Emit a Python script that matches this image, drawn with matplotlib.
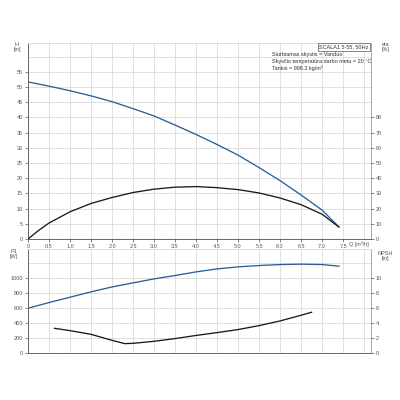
import matplotlib
matplotlib.use("Agg")
import matplotlib.pyplot as plt
import numpy as np

plt.rcParams['font.family'] = ['Liberation Sans', 'DejaVu Sans']

# pump curves
q_head = [0, 0.5, 1.0, 1.5, 2.0, 2.5, 3.0, 3.5, 4.0, 4.5, 5.0, 5.5, 6.0, 6.5, 7.0, 7.4]
head = [51.7, 50.3, 48.8, 47.1, 45.2, 42.9, 40.5, 37.5, 34.4, 31.1, 27.6, 23.5, 19.2, 14.5, 9.5, 4.0]

q_eta = [0, 0.25, 0.5, 1.0, 1.5, 2.0, 2.5, 3.0, 3.5, 4.0, 4.5, 5.0, 5.5, 6.0, 6.5, 7.0, 7.4]
eta = [0, 5.6, 10.5, 17.9, 23.4, 27.3, 30.6, 32.8, 34.1, 34.5, 33.8, 32.5, 30.3, 27.0, 22.6, 16.3, 7.9]

q_p1 = [0, 0.5, 1.0, 1.5, 2.0, 2.5, 3.0, 3.5, 4.0, 4.5, 5.0, 5.5, 6.0, 6.5, 7.0, 7.4]
p1 = [600, 676, 747, 818, 884, 938, 991, 1036, 1084, 1124, 1151, 1169, 1182, 1187, 1182, 1160]

q_npsh = [0.63, 1.0, 1.5, 2.0, 2.3, 2.5, 3.0, 3.5, 4.0, 4.5, 5.0, 5.5, 6.0, 6.5, 6.75]
npsh = [3.33, 3.02, 2.53, 1.73, 1.29, 1.33, 1.6, 1.96, 2.38, 2.76, 3.16, 3.69, 4.31, 5.07, 5.47]

x_ticks = [0, 0.5, 1.0, 1.5, 2.0, 2.5, 3.0, 3.5, 4.0, 4.5, 5.0, 5.5, 6.0, 6.5, 7.0, 7.5]
h_ticks = [0, 5, 10, 15, 20, 25, 30, 35, 40, 45, 50, 55]
eta_ticks = [0, 10, 20, 30, 40, 50, 60, 70, 80]
p1_ticks = [0, 200, 400, 600, 800, 1000]
npsh_ticks = [0, 2, 4, 6, 8, 10]

info_lines = ["Siurbiamas skystis = Vanduo",
              "Skysčio temperatūra darbo metu = 20 °C",
              "Tankis = 998.2 kg/m³"]

BLUE = '#2b5f97'
BLACK = '#1a1a1a'
GRID = '#dadada'
TXT = '#555555'
FS = 4.0
LW = 0.95

fig = plt.figure(figsize=(4, 4), dpi=100)
ax1 = fig.add_axes([0.07, 0.4025, 0.857, 0.49])
ax2 = fig.add_axes([0.07, 0.1167, 0.857, 0.261])


def style(ax):
    ax.set_xlim(0, 8.16)
    ax.set_xticks(x_ticks)
    ax.set_xticks([8.0], minor=True)
    ax.grid(True, which='both', color=GRID, linewidth=0.6)
    ax.set_axisbelow(True)
    ax.tick_params(which='both', labelsize=FS, colors=TXT, length=2, width=0.5, pad=1.5)
    ax.tick_params(which='minor', length=0)
    for s in ['left', 'bottom']:
        ax.spines[s].set_color('#666666')
        ax.spines[s].set_linewidth(0.7)
    ax.spines['right'].set_color('#999999')
    ax.spines['right'].set_linewidth(0.6)
    ax.spines['top'].set_color(GRID)
    ax.spines['top'].set_linewidth(0.6)


# top: head + efficiency
style(ax1)
ax1.set_ylim(0, 64.5)
ax1.set_yticks(h_ticks)
ax1.set_yticks([60], minor=True)
ax1.set_xticklabels(['0' if v == 0 else '%.1f' % v for v in x_ticks])
ax1.plot(q_head, head, color=BLUE, linewidth=LW)

ax1b = ax1.twinx()
ax1b.set_ylim(0, 129)
ax1b.set_yticks(eta_ticks)
ax1b.tick_params(labelsize=FS, colors=TXT, length=2, width=0.5, pad=1.5)
for s in ax1b.spines.values():
    s.set_visible(False)
ax1b.plot(q_eta, eta, color=BLACK, linewidth=LW)

ax1.text(0.994, 0.992, "SCALA1 5-55, 50Hz", transform=ax1.transAxes, ha='right', va='top',
         fontsize=FS, color='#333333',
         bbox=dict(boxstyle='square,pad=0.3', facecolor='white', edgecolor='#555555', linewidth=0.5))
ax1.text(0.712, 0.955, "\n".join(info_lines), transform=ax1.transAxes, ha='left', va='top',
         fontsize=FS, color='#333333', linespacing=1.45)

# bottom: power + npsh
style(ax2)
ax2.set_ylim(0, 1390)
ax2.set_yticks(p1_ticks)
ax2.set_yticks([1200], minor=True)
ax2.set_xticklabels([])
ax2.tick_params(axis='x', length=0)
ax2.plot(q_p1, p1, color=BLUE, linewidth=LW)

ax2b = ax2.twinx()
ax2b.set_ylim(0, 13.9)
ax2b.set_yticks(npsh_ticks)
ax2b.tick_params(labelsize=FS, colors=TXT, length=2, width=0.5, pad=1.5)
for s in ax2b.spines.values():
    s.set_visible(False)
ax2b.plot(q_npsh, npsh, color=BLACK, linewidth=LW)

# axis captions
fig.text(17 / 400, 1 - 47 / 400, "H\n[m]", ha='center', va='center', fontsize=FS, color=TXT, linespacing=1.2)
fig.text(386 / 400, 1 - 47 / 400, "eta\n[%]", ha='center', va='center', fontsize=FS, color=TXT, linespacing=1.2)
fig.text(14 / 400, 1 - 254 / 400, "P1\n[W]", ha='center', va='center', fontsize=FS, color=TXT, linespacing=1.2)
fig.text(385 / 400, 1 - 256 / 400, "NPSH\n[m]", ha='center', va='center', fontsize=FS, color=TXT, linespacing=1.2)
fig.text(359 / 400, 1 - 244.5 / 400, "Q [m³/h]", ha='center', va='center', fontsize=FS, color=TXT)

fig.savefig("out.png", dpi=100, facecolor='white')
